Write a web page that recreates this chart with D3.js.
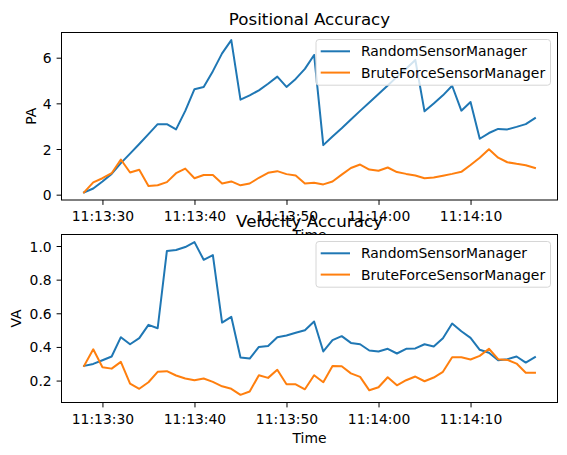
<!DOCTYPE html>
<html>
<head>
<meta charset="utf-8">
<script src="https://cdn.jsdelivr.net/npm/d3@7"></script>
<style>
	body { margin: 0; background: #fff; }
	svg { display: block; font-family: "DejaVu Sans", sans-serif; }
</style>
</head>
<body>
<svg id="chart" width="567" height="455"></svg>
<script>
// data, one sample per second starting 11:13:28
var startTime = "11:13:28";
var seriesNames = ["RandomSensorManager", "BruteForceSensorManager"];
var xTickLabels = ["11:13:30", "11:13:40", "11:13:50", "11:14:00", "11:14:10"];

var paRandom = [0.10, 0.27, 0.58, 0.91, 1.38, 1.80, 2.22, 2.65, 3.09, 3.09,
	2.86, 3.67, 4.62, 4.72, 5.41, 6.19, 6.77, 4.16, 4.35, 4.57,
	4.86, 5.17, 4.72, 5.07, 5.51, 6.12, 2.17, 2.55, 2.91, 3.29,
	3.67, 4.04, 4.41, 4.78, 5.16, 5.52, 5.90, 3.65, 3.99, 4.35,
	4.77, 3.68, 4.06, 2.45, 2.70, 2.88, 2.86, 2.97, 3.09, 3.35];
var paBrute = [0.10, 0.54, 0.72, 0.94, 1.54, 0.97, 1.09, 0.38, 0.41, 0.55,
	0.94, 1.14, 0.72, 0.86, 0.86, 0.49, 0.58, 0.41, 0.49, 0.74,
	0.96, 1.03, 0.90, 0.84, 0.49, 0.52, 0.45, 0.58, 0.88, 1.17,
	1.32, 1.10, 1.05, 1.19, 0.99, 0.91, 0.84, 0.72, 0.75, 0.83,
	0.91, 1.00, 1.30, 1.62, 1.99, 1.62, 1.42, 1.35, 1.29, 1.17];

var vaRandom = [0.287, 0.299, 0.321, 0.343, 0.458, 0.416, 0.452, 0.531, 0.511, 0.970,
	0.976, 0.994, 1.023, 0.918, 0.946, 0.545, 0.579, 0.337, 0.331, 0.400,
	0.406, 0.458, 0.468, 0.484, 0.499, 0.551, 0.373, 0.440, 0.464, 0.424,
	0.416, 0.379, 0.373, 0.389, 0.361, 0.389, 0.391, 0.416, 0.402, 0.452,
	0.539, 0.493, 0.454, 0.383, 0.365, 0.321, 0.327, 0.343, 0.307, 0.339];
var vaBrute = [0.287, 0.386, 0.279, 0.271, 0.311, 0.182, 0.151, 0.190, 0.252, 0.256,
	0.230, 0.212, 0.202, 0.212, 0.192, 0.166, 0.151, 0.115, 0.135, 0.232,
	0.216, 0.264, 0.178, 0.178, 0.148, 0.232, 0.190, 0.287, 0.285, 0.243,
	0.222, 0.142, 0.160, 0.220, 0.172, 0.202, 0.224, 0.196, 0.218, 0.252,
	0.339, 0.339, 0.325, 0.347, 0.389, 0.327, 0.323, 0.301, 0.246, 0.246];

var paTicks = [0, 2, 4, 6];
var vaTicks = [0.2, 0.4, 0.6, 0.8, 1.0];

////
var Config = {
	left: 61.5, right: 557.5,
	panels: [
		{ top: 32.5, bottom: 200, title: "Positional Accuracy", ylabel: "PA", ylabelX: 35.5,
		  series: [paRandom, paBrute], ticks: paTicks, fmt: d3.format("d") },
		{ top: 234.5, bottom: 402.5, title: "Velocity Accuracy", ylabel: "VA", ylabelX: 20.5,
		  series: [vaRandom, vaBrute], ticks: vaTicks, fmt: d3.format(".1f") }
	],
	colors: ["#1f77b4", "#ff7f0e"],
	fontSize: 13.9,
	titleSize: 16.7,
	tickLen: 4.9,
	lineWidth: 2
};

var parseTime = d3.timeParse("%H:%M:%S");
var t0 = parseTime(startTime);
var times = paRandom.map(function(d, i){ return d3.timeSecond.offset(t0, i); });

// matplotlib style 5% margins
function padded(extent){
	var span = extent[1] - extent[0];
	return [extent[0] - span*0.05, extent[1] + span*0.05];
}

var tExt = d3.extent(times, function(d){ return +d; });
var x = d3.scaleTime()
	.domain(padded(tExt).map(function(v){ return new Date(v); }))
	.range([Config.left, Config.right]);
var xTicks = xTickLabels.map(parseTime);

var svg = d3.select("#chart");

function drawPanel(p){
	var all = p.series[0].concat(p.series[1]);
	var y = d3.scaleLinear().domain(padded(d3.extent(all))).range([p.bottom, p.top]);
	var g = svg.append("g");

	// axes background covers whatever was drawn beneath (matplotlib overlap)
	g.append("rect")
		.attr("x", Config.left).attr("y", p.top)
		.attr("width", Config.right - Config.left).attr("height", p.bottom - p.top)
		.attr("fill", "#fff");

	var clipId = "clip" + p.ylabel;
	g.append("clipPath").attr("id", clipId).append("rect")
		.attr("x", Config.left).attr("y", p.top)
		.attr("width", Config.right - Config.left).attr("height", p.bottom - p.top);

	var line = d3.line()
		.x(function(d, i){ return x(times[i]); })
		.y(function(d){ return y(d); });

	p.series.forEach(function(s, k){
		g.append("path")
			.datum(s)
			.attr("d", line)
			.attr("fill", "none")
			.attr("stroke", Config.colors[k])
			.attr("stroke-width", Config.lineWidth)
			.attr("stroke-linejoin", "round")
			.attr("stroke-linecap", "square")
			.attr("clip-path", "url(#" + clipId + ")");
	});

	var xAxis = d3.axisBottom(x).tickValues(xTicks)
		.tickFormat(d3.timeFormat("%H:%M:%S"))
		.tickSizeInner(Config.tickLen).tickSizeOuter(0).tickPadding(4.9);
	var gx = g.append("g").attr("transform", "translate(0," + p.bottom + ")").call(xAxis);

	var yAxis = d3.axisLeft(y).tickValues(p.ticks).tickFormat(p.fmt)
		.tickSizeInner(Config.tickLen).tickSizeOuter(0).tickPadding(4.9);
	var gy = g.append("g").attr("transform", "translate(" + Config.left + ",0)").call(yAxis);

	[gx, gy].forEach(function(a){
		a.select(".domain").remove();
		a.selectAll("line").attr("stroke", "#000").attr("stroke-width", 1);
		a.selectAll("text").attr("fill", "#000").attr("font-size", Config.fontSize)
			.attr("font-family", "DejaVu Sans");
	});
	gx.selectAll("text").attr("dy", null).attr("y", 21);
	gy.selectAll("text").attr("dy", "0.36em");

	// frame
	g.append("rect")
		.attr("x", Config.left).attr("y", p.top)
		.attr("width", Config.right - Config.left).attr("height", p.bottom - p.top)
		.attr("fill", "none").attr("stroke", "#000").attr("stroke-width", 1);

	// legend, upper right
	var lg = g.append("g").attr("transform", "translate(" + 316 + "," + (p.top + 7) + ")");
	lg.append("rect")
		.attr("x", 0).attr("y", 0).attr("width", 234.5).attr("height", 45.7)
		.attr("rx", 3).attr("fill", "#fff").attr("fill-opacity", 0.8)
		.attr("stroke", "#d6d6d6").attr("stroke-width", 1);
	seriesNames.forEach(function(name, k){
		var cy = 11.8 + k*21.3;
		lg.append("line")
			.attr("x1", 4.7).attr("x2", 34).attr("y1", cy).attr("y2", cy)
			.attr("stroke", Config.colors[k]).attr("stroke-width", Config.lineWidth);
		lg.append("text")
			.attr("x", 45).attr("y", cy + 5)
			.attr("font-size", Config.fontSize).attr("fill", "#000")
			.text(name);
	});

	// labels
	g.append("text")
		.attr("x", (Config.left + Config.right)/2).attr("y", p.top - 7.4)
		.attr("text-anchor", "middle").attr("font-size", Config.titleSize)
		.text(p.title);
	g.append("text")
		.attr("x", (Config.left + Config.right)/2).attr("y", p.bottom + 40)
		.attr("text-anchor", "middle").attr("font-size", Config.fontSize)
		.text("Time");
	g.append("text")
		.attr("transform", "translate(" + p.ylabelX + "," + (p.top + p.bottom)/2 + ") rotate(-90)")
		.attr("text-anchor", "middle").attr("font-size", Config.fontSize)
		.text(p.ylabel);
}

Config.panels.forEach(drawPanel);
</script>
</body>
</html>
